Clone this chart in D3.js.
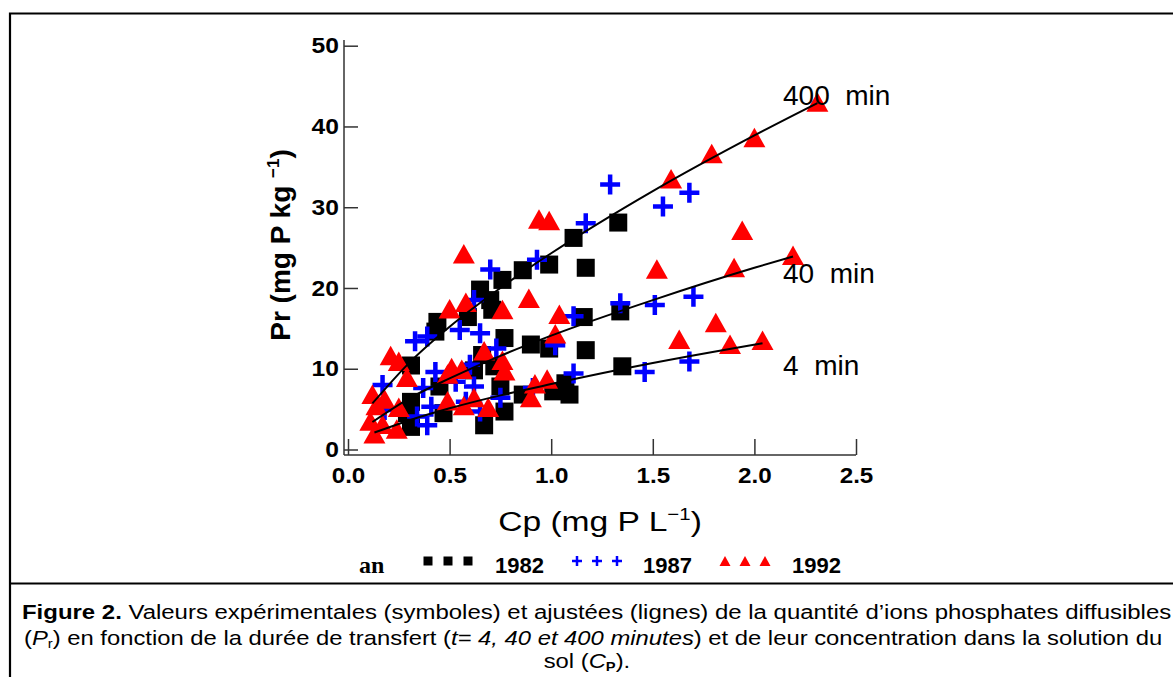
<!DOCTYPE html>
<html>
<head>
<meta charset="utf-8">
<script src="https://cdn.jsdelivr.net/npm/d3@7/dist/d3.min.js"></script>
<style>
body { margin: 0; background: #fff; }
svg { font-family: "Liberation Sans", Arial, Helvetica, sans-serif; }
</style>
</head>
<body>
<svg id="chart" width="1173" height="677"></svg>
<script>
// ---- data: [Cp, Pr] ----
var pts1982 = [
  [1.33,28.1],[1.11,26.2],[0.99,22.9],[0.86,22.2],[1.17,22.5],[0.76,21.0],[0.65,19.8],
  [0.70,18.5],[0.71,17.3],[0.59,16.4],[0.44,15.8],[0.43,14.6],[1.34,17.1],[1.16,16.4],
  [0.77,13.8],[0.90,13.0],[0.99,12.5],[1.17,12.3],[0.66,11.7],[0.72,10.3],[0.62,9.8],
  [0.31,10.4],[1.35,10.3],[1.07,8.2],[1.09,6.8],[1.01,7.2],[0.86,6.8],[0.75,7.8],
  [0.45,7.8],[0.77,4.7],[0.31,5.9],[0.29,4.5],[0.31,2.8],[0.47,4.5],[0.67,3.0]
];
var pts1987 = [
  [1.29,32.8],[1.68,31.8],[1.55,30.1],[1.17,28.0],[0.93,23.5],[0.70,22.3],[0.62,18.5],
  [0.55,14.8],[0.65,14.4],[0.39,14.0],[0.33,13.4],[1.34,18.1],[1.51,17.9],[1.70,18.9],
  [1.11,16.5],[1.02,12.9],[0.73,12.5],[0.60,10.5],[1.68,10.9],[1.46,9.6],[1.11,9.4],
  [0.91,7.6],[0.75,6.4],[0.43,9.6],[0.37,7.6],[0.53,8.4],[0.62,7.8],[0.17,8.0],
  [0.18,4.9],[0.34,4.1],[0.39,3.0],[0.41,5.3],[0.58,5.9],[0.65,4.7]
];
var pts1992 = [
  [2.31,42.7],[2.00,38.3],[1.79,36.3],[1.59,33.2],[0.94,28.2],[0.99,28.0],[1.94,26.8],
  [1.52,22.0],[1.90,22.2],[2.19,23.7],[0.57,23.9],[0.89,18.4],[0.76,17.0],[0.58,17.9],
  [0.50,17.1],[1.04,16.4],[1.02,14.0],[1.63,13.3],[1.81,15.4],[1.88,12.7],[2.04,13.2],
  [0.67,11.9],[0.76,10.7],[0.77,9.4],[0.21,11.3],[0.25,10.6],[0.29,8.6],[0.12,6.5],
  [0.51,9.8],[0.56,9.6],[0.49,9.0],[0.98,8.4],[0.92,7.8],[0.90,6.1],[0.18,5.9],
  [0.14,5.1],[0.25,4.9],[0.11,3.2],[0.13,1.6],[0.17,2.8],[0.24,2.2],[0.49,5.7],
  [0.57,5.1],[0.62,6.1],[0.69,4.9]
];
// fitted curves, points
var fit400 = [[0.12,5.7],[0.3,10.7],[0.5,15.2],[0.75,20.0],[1.0,24.3],[1.5,32.0],[2.0,38.9],[2.31,42.9]];
var fit40  = [[0.12,3.4],[0.3,6.3],[0.5,8.8],[0.75,11.6],[1.0,14.1],[1.5,18.5],[2.0,22.5],[2.19,23.9]];
var fit4   = [[0.13,2.1],[0.3,3.6],[0.5,5.1],[0.75,6.7],[1.0,8.1],[1.5,10.7],[2.04,13.15]];
var curveLabels = ["400 min", "40 min", "4 min"];
var legendYears = ["1982", "1987", "1992"];
var xTicks = [0, 0.5, 1.0, 1.5, 2.0, 2.5];
var yTicks = [0, 10, 20, 30, 40, 50];

var svg = d3.select("#chart");

// the original figure is a bit wider than tall: stretch text about its anchor
function stretch(sel, sx) {
  sel.each(function() {
    var t = d3.select(this), x0 = +t.attr("x") || 0;
    t.attr("transform", "translate(" + x0 + ",0) scale(" + sx + ",1) translate(" + (-x0) + ",0)");
  });
}

// frame + caption separator
svg.append("path")
  .attr("d", "M1173,13.5H10V677M10,583.5H1173")
  .attr("fill", "none").attr("stroke", "#000").attr("stroke-width", 2.2);

var x = d3.scaleLinear().domain([0, 2.5]).range([348, 856]);
var y = d3.scaleLinear().domain([0, 50]).range([449.5, 45.7]);
var AX = 344, AY = 455;

// y axis
var gy = svg.append("g").attr("transform", "translate(" + AX + ",0)");
gy.call(d3.axisLeft(y).ticks(50).tickSizeInner(-7).tickSizeOuter(0).tickFormat(""));
gy.call(d3.axisLeft(y).tickValues(yTicks).tickSizeInner(-14).tickSizeOuter(0).tickPadding(5)
  .tickFormat(d3.format("d")));
gy.selectAll(".domain").remove();
gy.append("line").attr("y1", 40).attr("y2", AY);

// x axis
var gx = svg.append("g").attr("transform", "translate(0," + AY + ")");
gx.call(d3.axisBottom(x).ticks(25).tickSizeInner(-8).tickSizeOuter(0).tickFormat(""));
gx.call(d3.axisBottom(x).tickValues(xTicks).tickSizeInner(-16).tickSizeOuter(0).tickPadding(12)
  .tickFormat(d3.format(".1f")));
gx.selectAll(".domain").remove();
gx.append("line").attr("x1", AX).attr("x2", 856);

svg.selectAll(".tick line, g > line").attr("stroke", "#333").attr("stroke-width", 1.5);
svg.selectAll(".tick text")
  .attr("fill", "#000").attr("font-size", 22).attr("font-weight", "bold")
  .style("font-family", "Liberation Sans, Arial, sans-serif");
stretch(gy.selectAll(".tick text"), 1.12);
stretch(gx.selectAll(".tick text"), 1.1);

// markers
var TRI = "M0,-12.5L11,7H-11Z";
var PLUS = "M-10,0H10M0,-10V10";

svg.append("g").selectAll("rect").data(pts1982).enter().append("rect")
  .attr("x", function(d) { return x(d[0]) - 9; })
  .attr("y", function(d) { return y(d[1]) - 9; })
  .attr("width", 18).attr("height", 18).attr("fill", "#000");

svg.append("g").selectAll("path").data(pts1987).enter().append("path")
  .attr("d", PLUS)
  .attr("transform", function(d) { return "translate(" + x(d[0]) + "," + y(d[1]) + ")"; })
  .attr("stroke", "#0000ff").attr("stroke-width", 4.5).attr("fill", "none");

svg.append("g").selectAll("path").data(pts1992).enter().append("path")
  .attr("d", TRI)
  .attr("transform", function(d) { return "translate(" + x(d[0]) + "," + y(d[1]) + ")"; })
  .attr("fill", "#ff0000");

// fitted lines
var line = d3.line()
  .x(function(d) { return x(d[0]); })
  .y(function(d) { return y(d[1]); })
  .curve(d3.curveMonotoneX);

svg.append("g").selectAll("path").data([fit400, fit40, fit4]).enter().append("path")
  .attr("d", line).attr("fill", "none").attr("stroke", "#000").attr("stroke-width", 2);

svg.append("g").selectAll("text").data(curveLabels).enter().append("text")
  .attr("x", 783)
  .attr("y", function(d, i) { return [105, 283, 375][i]; })
  .attr("font-size", 28)
  .style("white-space", "pre")
  .text(function(d) { return d.replace(" ", "  "); });

// axis titles
var xt = svg.append("text").attr("x", 600).attr("y", 531).attr("text-anchor", "middle")
  .attr("font-size", 28);
xt.append("tspan").text("Cp (mg P L");
xt.append("tspan").attr("font-size", 17).attr("dy", -11).text("\u22121");
xt.append("tspan").attr("dy", 11).text(")");
stretch(xt, 1.2);

var yt = svg.append("text").attr("transform", "translate(290,245) rotate(-90)")
  .attr("text-anchor", "middle").attr("font-size", 28).attr("font-weight", "bold");
yt.append("tspan").text("Pr (mg P kg ");
yt.append("tspan").attr("font-size", 17).attr("dy", -11).text("\u22121");
yt.append("tspan").attr("dy", 11).text(")");

// legend
var LY = 561;
svg.append("text").attr("x", 359).attr("y", 573)
  .style("font-family", "Liberation Serif, Times New Roman, serif")
  .attr("font-weight", "bold").attr("font-size", 24).text("an");

var legendX = [428, 577, 725];
var g1 = svg.append("g");
[0, 1, 2].forEach(function(k) {
  g1.append("rect").attr("x", legendX[0] + 20 * k - 4.5).attr("y", LY - 4.5)
    .attr("width", 9).attr("height", 9).attr("fill", "#000");
  g1.append("path").attr("d", "M-5,0H5M0,-5V5")
    .attr("transform", "translate(" + (legendX[1] + 20 * k) + "," + LY + ")")
    .attr("stroke", "#0000ff").attr("stroke-width", 2.5);
  g1.append("path").attr("d", "M0,-6L5.5,4H-5.5Z")
    .attr("transform", "translate(" + (legendX[2] + 20 * k) + "," + (LY + 1) + ")")
    .attr("fill", "#ff0000");
});
svg.append("g").selectAll("text").data(legendYears).enter().append("text")
  .attr("x", function(d, i) { return [495, 643, 792][i]; })
  .attr("y", 573).attr("font-size", 22).attr("font-weight", "bold")
  .text(function(d) { return d; });

// caption, fitted to the line widths of the original
var cap = svg.append("g").attr("font-size", 21);
var c1 = cap.append("text").attr("x", 22).attr("y", 619);
c1.append("tspan").attr("font-weight", "bold").text("Figure 2.");
c1.append("tspan").text(" Valeurs exp\u00e9rimentales (symboles) et ajust\u00e9es (lignes) de la quantit\u00e9 d\u2019ions phosphates diffusibles");

var c2 = cap.append("text").attr("x", 24).attr("y", 645);
c2.append("tspan").text("(");
c2.append("tspan").attr("font-style", "italic").text("P");
c2.append("tspan").attr("font-size", 13).attr("dy", 3).text("r");
c2.append("tspan").attr("dy", -3).text(") en fonction de la dur\u00e9e de transfert (");
c2.append("tspan").attr("font-style", "italic").text("t= 4, 40 et 400 minutes");
c2.append("tspan").text(") et de leur concentration dans la solution du");

var c3 = cap.append("text").attr("y", 668);
c3.append("tspan").text("sol (");
c3.append("tspan").attr("font-style", "italic").text("C");
c3.append("tspan").attr("font-size", 13).attr("font-weight", "bold").attr("dy", 3).text("P");
c3.append("tspan").attr("dy", -3).text(").");

var s1 = 1150 / c1.node().getComputedTextLength();
var s2 = 1139 / c2.node().getComputedTextLength();
stretch(c1, s1);
stretch(c2, s2);
c3.attr("x", 587 - c3.node().getComputedTextLength() * s2 / 2);
stretch(c3, s2);
</script>
</body>
</html>
